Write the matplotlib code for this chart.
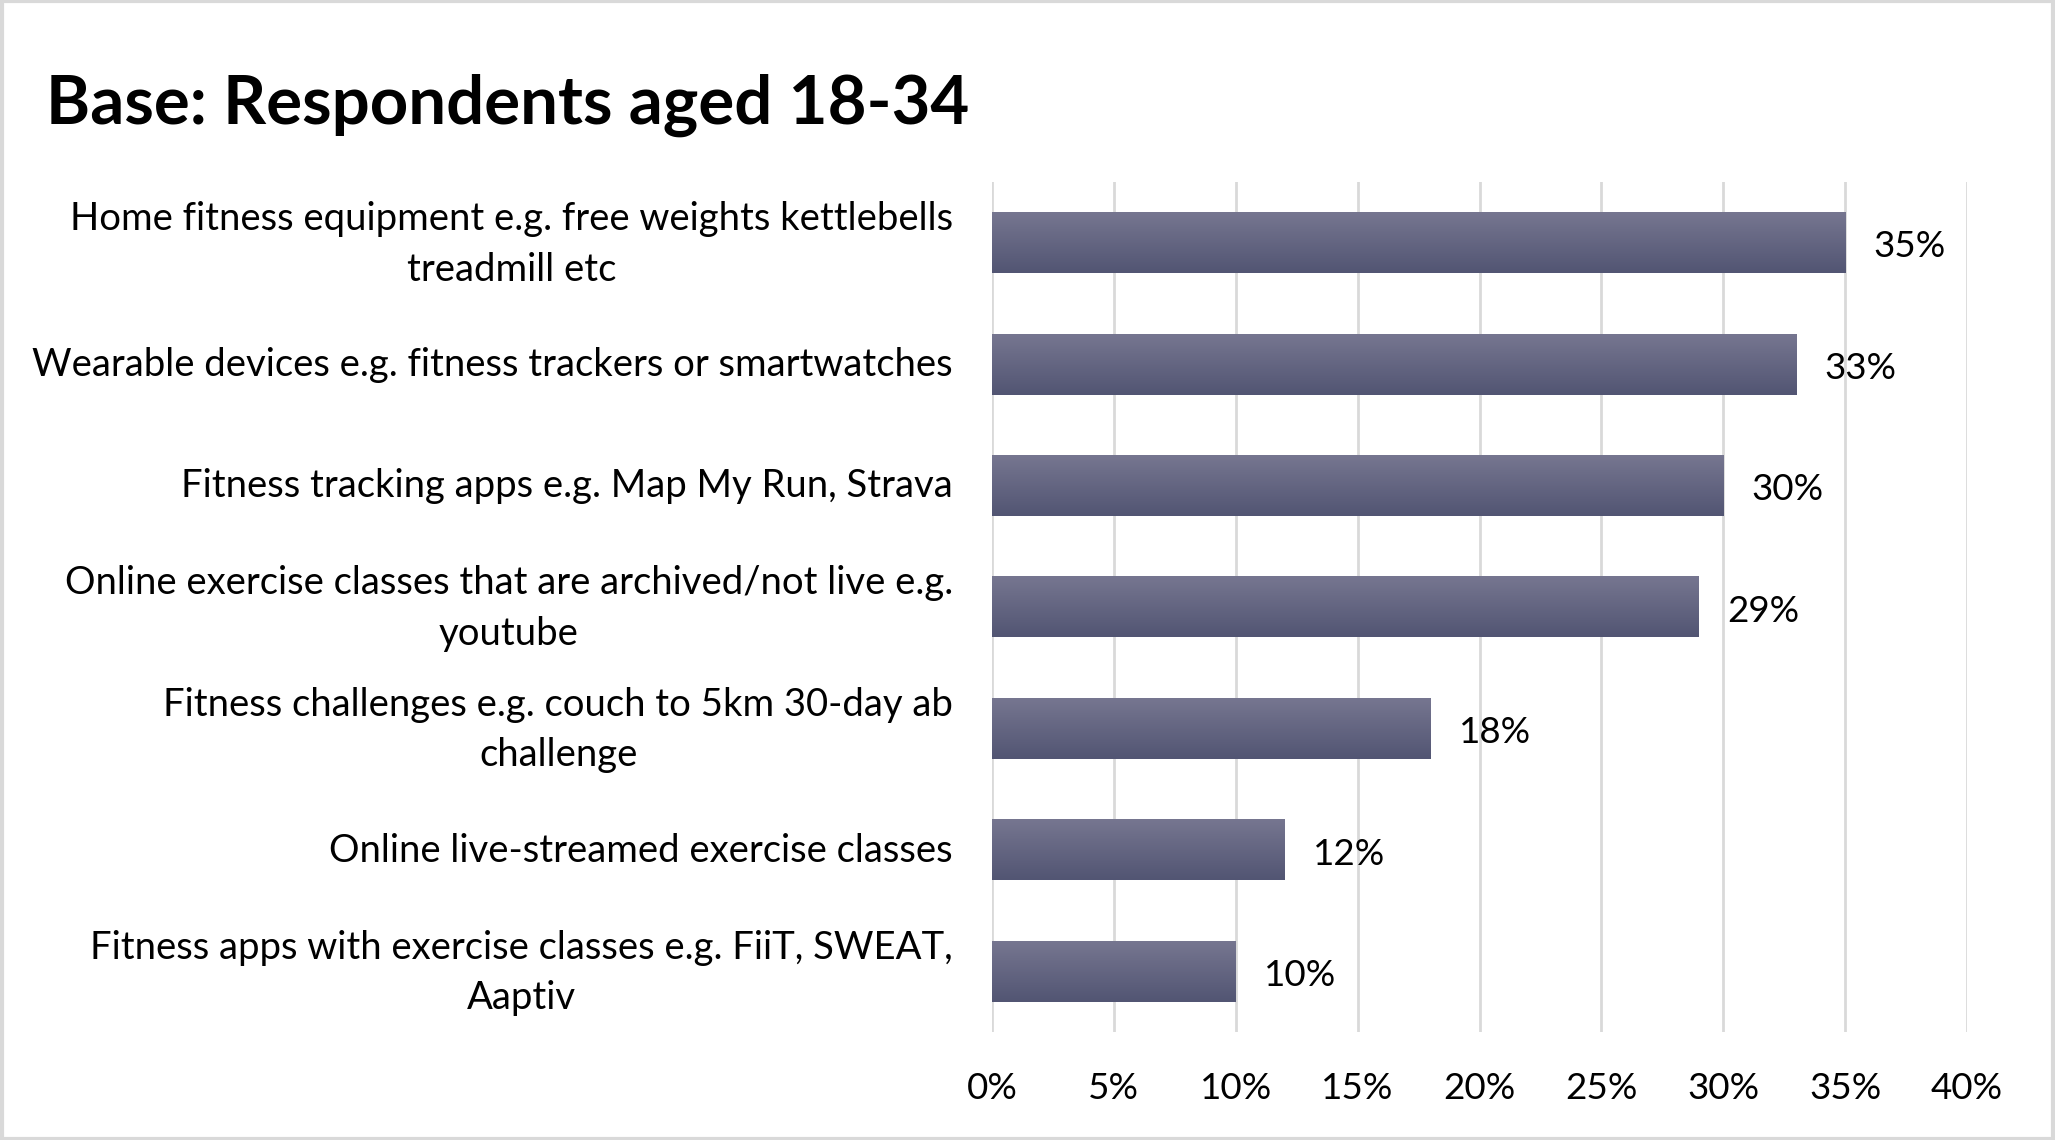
import numpy as np
import matplotlib.pyplot as plt
import matplotlib.transforms as mtransforms
from matplotlib.colors import LinearSegmentedColormap

plt.rcParams['font.family'] = ['Lato', 'DejaVu Sans']

categories = [
    'Home fitness equipment e.g. free weights kettlebells\ntreadmill etc',
    'Wearable devices e.g. fitness trackers or smartwatches',
    'Fitness tracking apps e.g. Map My Run, Strava',
    'Online exercise classes that are archived/not live e.g.\nyoutube',
    'Fitness challenges e.g. couch to 5km 30-day ab\nchallenge',
    'Online live-streamed exercise classes',
    'Fitness apps with exercise classes e.g. FiiT, SWEAT,\nAaptiv',
]
values = [35, 33, 30, 29, 18, 12, 10]
xticks = [0, 5, 10, 15, 20, 25, 30, 35, 40]
title = 'Base: Respondents aged 18-34'

fig = plt.figure(figsize=(20.55, 11.4), dpi=100)
ax = fig.add_axes([992/2055, 1 - 1032/1140, (1967-992)/2055, (1032-182)/1140])

# gradient fill like the excel bars
grad = LinearSegmentedColormap.from_list('bar', ['#525573', '#767690'])
g = np.linspace(0, 1, 64).reshape(-1, 1)

n = len(values)
ypos = np.arange(n)[::-1]
bars = ax.barh(ypos, values, height=0.5, color='none', zorder=2)
val_tr = mtransforms.offset_copy(ax.transData, fig=fig, x=0, y=-3, units='points')
for b, v in zip(bars, values):
    y0 = b.get_y()
    ax.imshow(g, cmap=grad, aspect='auto', origin='lower',
              extent=[0, v, y0, y0 + b.get_height()], zorder=3)
    ax.text(v + 1.15, y0 + b.get_height()/2, '%d%%' % v, va='center', ha='left',
            fontsize=26.5, color='black', transform=val_tr)

ax.set_xlim(0, 40)
ax.set_ylim(-0.5, n - 0.5)
ax.set_xticks(xticks)
ax.set_xticklabels(['%d%%' % t for t in xticks], fontsize=26.5)
ax.set_yticks(ypos)
ax.set_yticklabels(categories, fontsize=27.5, linespacing=1.5)
ax.tick_params(axis='both', length=0)
ax.tick_params(axis='x', pad=29)
ax.tick_params(axis='y', pad=28)
for lbl in ax.get_yticklabels():
    lbl.set_horizontalalignment('right')
    lbl.set_multialignment('center')
    # nudge up so the text block sits on the bar centre
    dy = 6.5 if '\n' in lbl.get_text() else 2
    lbl.set_transform(lbl.get_transform() + mtransforms.ScaledTranslation(0, dy/72, fig.dpi_scale_trans))
for s in ax.spines.values():
    s.set_visible(False)
ax.grid(axis='x', color='#d9d9d9', linewidth=2, zorder=0)
ax.set_axisbelow(True)

fig.text(46/2055, 1 - 105/1140, title, fontsize=48.3, fontweight='bold', va='center', ha='left')

# light grey frame around the chart area
fig.patches.append(plt.Rectangle((0.001, 0.001), 0.998, 0.998, transform=fig.transFigure,
                                 fill=False, edgecolor='#d9d9d9', linewidth=3))

fig.savefig('out.png', dpi=100)
